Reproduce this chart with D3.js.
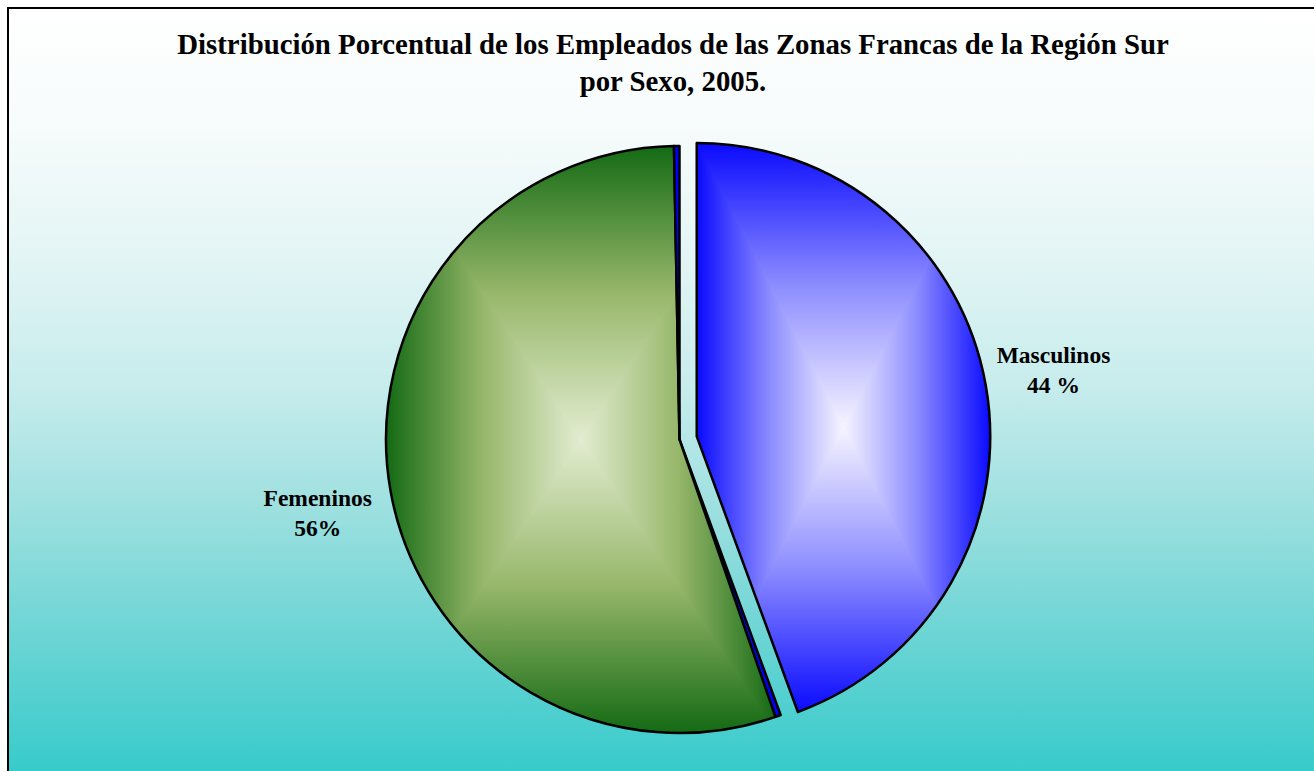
<!DOCTYPE html>
<html>
<head>
<meta charset="utf-8">
<script src="https://cdn.jsdelivr.net/npm/d3@7"></script>
<style>
  html, body { margin: 0; padding: 0; background: #ffffff; }
  svg { display: block; }
</style>
</head>
<body>
<svg id="chart" width="1314" height="771"></svg>
<script>
// ---- data ----
const titleLines = ["Distribución Porcentual de los Empleados de las Zonas Francas de la Región Sur", "por Sexo, 2005."];
const categories = ["Masculinos", "", "Femeninos", ""];
const values = [44.4, 0.3, 55.0, 0.3];
const valueLabels = ["44 %", "", "56%", ""];
const exploded = [true, false, false, false];

// ---- styles ----
const W = 1314, H = 771;
const cx = 679.5, cy = 439.5, R = 293.5, explode = 17.5;
const fills = [
  {edge: "#0a0aff", mid: "#8c8cff", center: "#f6f4ff"},
  {solid: "#0000ff"},
  {edge: "#146a14", mid: "#97b76a", center: "#e2ecd0"},
  {solid: "#0000ff"}
];
const labelNudge = {"Masculinos": [-3, -1], "Femeninos": [-2, 11]};

const svg = d3.select("#chart");
const defs = svg.append("defs");

// background gradient
const bg = defs.append("linearGradient").attr("id", "bg")
  .attr("gradientUnits", "userSpaceOnUse").attr("x1", 0).attr("y1", 8).attr("x2", 0).attr("y2", H);
[[0, "#ffffff"], [0.16, "#f6fbfb"], [0.32, "#e4f5f5"], [0.5, "#c6ecec"], [0.64, "#a2e1e1"],
 [0.78, "#79d7d7"], [0.9, "#55d0d0"], [1, "#38cbcb"]].forEach(s =>
  bg.append("stop").attr("offset", s[0]).attr("stop-color", s[1]));

svg.append("rect").attr("x", 8).attr("y", 8).attr("width", W).attr("height", H)
  .attr("fill", "url(#bg)").attr("stroke", "#000").attr("stroke-width", 2);

// title
const title = svg.append("text").attr("text-anchor", "middle")
  .attr("font-family", "'Liberation Serif','Times New Roman',serif")
  .attr("font-weight", "bold").attr("font-size", 28.8).attr("fill", "#000");
titleLines.forEach((t, i) => {
  title.append("tspan").attr("x", 673).attr("y", 54 + i * 37).text(t);
});

// pie
const pie = d3.pie().sort(null).value(d => d.v).startAngle(0).endAngle(2 * Math.PI);
const data = categories.map((c, i) => ({c, v: values[i], lab: valueLabels[i], ex: exploded[i], f: fills[i]}));
const arcs = pie(data);
const arc = d3.arc().innerRadius(0).outerRadius(R);

const g = svg.append("g");

function sliceCenter(a) {
  const mid = (a.startAngle + a.endAngle) / 2;
  const ox = a.data.ex ? explode * Math.sin(mid) : 0;
  const oy = a.data.ex ? -explode * Math.cos(mid) : 0;
  return [cx + ox, cy + oy];
}

arcs.forEach((a, i) => {
  const [sx, sy] = sliceCenter(a);
  const sg = g.append("g").attr("transform", `translate(${sx},${sy})`);
  const d = arc(a);
  if (a.data.f.solid) {
    sg.append("path").attr("d", d).attr("fill", a.data.f.solid)
      .attr("stroke", "#000").attr("stroke-width", 2.5).attr("stroke-linejoin", "round");
    return;
  }
  const tmp = sg.append("path").attr("d", d).attr("fill", "none");
  const bb = tmp.node().getBBox();
  tmp.remove();
  const clipId = "clip" + i;
  defs.append("clipPath").attr("id", clipId).append("path").attr("d", d);
  const x0 = bb.x, y0 = bb.y, x1 = bb.x + bb.width, y1 = bb.y + bb.height;
  const mx = (x0 + x1) / 2, my = (y0 + y1) / 2;
  const f = a.data.f;
  const sides = [
    {pts: [[mx, my], [x0, y0], [x1, y0]], g: [mx, y0, mx, my]},
    {pts: [[mx, my], [x1, y0], [x1, y1]], g: [x1, my, mx, my]},
    {pts: [[mx, my], [x1, y1], [x0, y1]], g: [mx, y1, mx, my]},
    {pts: [[mx, my], [x0, y1], [x0, y0]], g: [x0, my, mx, my]}
  ];
  const cg = sg.append("g").attr("clip-path", `url(#${clipId})`);
  sides.forEach((s, k) => {
    const gid = `gr${i}_${k}`;
    const lg = defs.append("linearGradient").attr("id", gid).attr("gradientUnits", "userSpaceOnUse")
      .attr("x1", s.g[0]).attr("y1", s.g[1]).attr("x2", s.g[2]).attr("y2", s.g[3]);
    lg.append("stop").attr("offset", 0).attr("stop-color", f.edge);
    lg.append("stop").attr("offset", 0.5).attr("stop-color", f.mid);
    lg.append("stop").attr("offset", 1).attr("stop-color", f.center);
    const pts = s.pts.map(p => [p[0] + (p[0] - mx) * 0.02, p[1] + (p[1] - my) * 0.02]);
    const c = pts.reduce((acc, p) => [acc[0] + p[0] / 3, acc[1] + p[1] / 3], [0, 0]);
    const ep = pts.map(p => [p[0] + (p[0] - c[0]) * 0.01, p[1] + (p[1] - c[1]) * 0.01]);
    cg.append("polygon").attr("points", ep.map(p => p.join(",")).join(" "))
      .attr("fill", `url(#${gid})`);
  });
  sg.append("path").attr("d", d).attr("fill", "none")
    .attr("stroke", "#000").attr("stroke-width", 2.5).attr("stroke-linejoin", "round");
});

// labels
const labelR = R * 1.245;
arcs.forEach(a => {
  if (!a.data.c) return;
  const mid = (a.startAngle + a.endAngle) / 2;
  const [sx, sy] = sliceCenter(a);
  const nudge = labelNudge[a.data.c] || [0, 0];
  const lx = sx + labelR * Math.sin(mid) + nudge[0];
  const ly = sy - labelR * Math.cos(mid) + nudge[1];
  const t = svg.append("text").attr("text-anchor", "middle")
    .attr("font-family", "'Liberation Serif','Times New Roman',serif")
    .attr("font-weight", "bold").attr("font-size", 23.5).attr("fill", "#000");
  t.append("tspan").attr("x", lx).attr("y", ly - 8).text(a.data.c);
  t.append("tspan").attr("x", lx).attr("y", ly + 22).text(a.data.lab);
});
</script>
</body>
</html>
